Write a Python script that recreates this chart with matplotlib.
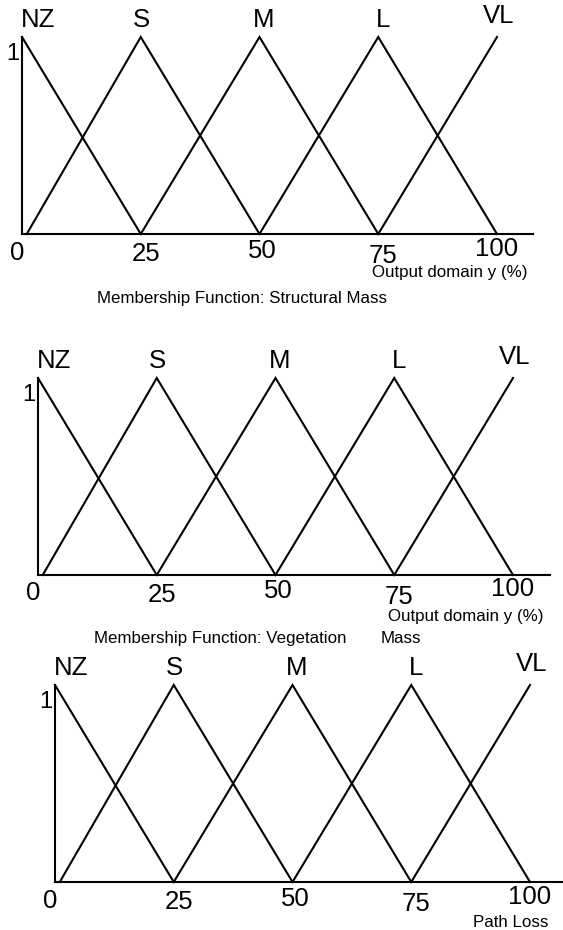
import matplotlib
matplotlib.use('Agg')
import matplotlib.pyplot as plt

plt.rcParams['font.family'] = ['Liberation Sans', 'DejaVu Sans']

# ---- data ----
categories = ['NZ', 'S', 'M', 'L', 'VL']
left_feet = [None, 1, 25, 50, 75]      # NZ starts at its peak (shoulder)
peaks = [0, 25, 50, 75, 100]
right_feet = [25, 50, 75, 100, None]   # VL ends at its peak (shoulder)
tick_values = [0, 25, 50, 75, 100]
tick_labels = ['0', '25', '50', '75', '100']
axis_labels = ['Output domain y (%)', 'Output domain y (%)', 'Path Loss']
axis_label_x = [90, 90, 96]
titles = [['Membership Function: Structural Mass'],
          ['Membership Function: Vegetation', 'Mass'],
          []]

# ---- layout (pixels) ----
W, H = 563, 930
PX_PER_UNIT = 4.75
panels_px = [  # x of data 0, right end of axis, top (y=1), baseline (y=0)
    (22, 533, 37, 234),
    (38, 550, 378, 575),
    (55, 563, 685, 882),
]
name_off = [(16, 17), (1, 17), (4, 17), (5, 17), (2, 21)]
tick_off = [(-5, -18.5), (5, -20), (3, -16.5), (5, -22), (0, -14.5)]
axis_label_off = [-39, -42, -40]
title_pos = [[(242, 298, 'center')], [(94, 638, 'left'), (381, 638, 'left')], []]

fig = plt.figure(figsize=(W / 100, H / 100), dpi=100)
LW = 1.5

for i, (x0, xend, top, base) in enumerate(panels_px):
    ax = fig.add_axes([x0 / W, 1 - base / H, (xend - x0) / W, (base - top) / H])
    ax.set_xlim(0, (xend - x0) / PX_PER_UNIT)
    ax.set_ylim(0, 1)
    for s in ['top', 'right']:
        ax.spines[s].set_visible(False)
    for s in ['left', 'bottom']:
        ax.spines[s].set_linewidth(LW)
        ax.spines[s].set_color('black')
    ax.set_xticks([])
    ax.set_yticks([])
    ax.patch.set_visible(False)

    for name, lf, pk, rf, (dx, dy) in zip(categories, left_feet, peaks, right_feet, name_off):
        xs, ys = [], []
        if lf is not None:
            xs.append(lf); ys.append(0)
        xs.append(pk); ys.append(1)
        if rf is not None:
            xs.append(rf); ys.append(0)
        ax.plot(xs, ys, color='black', lw=LW, clip_on=False, solid_joinstyle='miter')
        ax.annotate(name, xy=(pk, 1), xytext=(dx, dy), textcoords='offset pixels',
                    ha='center', va='center', fontsize=18.5, annotation_clip=False)

    ax.annotate('1', xy=(0, 1), xytext=(-9, -17), textcoords='offset pixels',
                ha='center', va='center', fontsize=17, annotation_clip=False)

    for v, lab, (dx, dy) in zip(tick_values, tick_labels, tick_off):
        ax.annotate(lab, xy=(v, 0), xytext=(dx, dy), textcoords='offset pixels',
                    ha='center', va='center', fontsize=18.5, annotation_clip=False)

    ax.annotate(axis_labels[i], xy=(axis_label_x[i], 0), xytext=(0, axis_label_off[i]),
                textcoords='offset pixels', ha='center', va='center', fontsize=12.2,
                annotation_clip=False)

    for txt, (tx, ty, ha) in zip(titles[i], title_pos[i]):
        fig.text(tx / W, 1 - ty / H, txt, ha=ha, va='center', fontsize=12.2)

fig.savefig('out.png', dpi=100)
